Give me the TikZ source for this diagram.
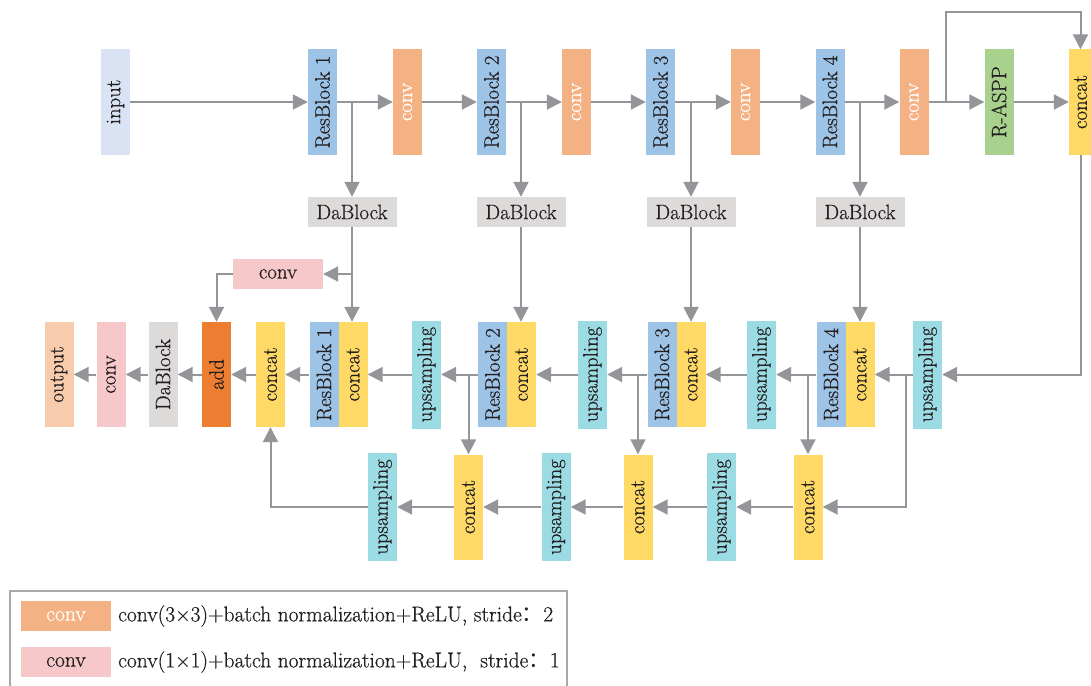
\documentclass[tikz,border=0pt]{standalone}
\usepackage{fontspec}
\usepackage{graphicx}
\usetikzlibrary{arrows.meta}
\setmainfont{Latin Modern Roman}[FakeBold=0.6]
\newfontfamily\cjk{Noto Sans CJK SC}

\definecolor{ink}{HTML}{231F20}
\definecolor{cLine}{HTML}{939598}
\definecolor{cFrame}{HTML}{A7A9AC}
\definecolor{cInput}{HTML}{DAE3F3}
\definecolor{cRes}{HTML}{9DC3E6}
\definecolor{cConv}{HTML}{F4B183}
\definecolor{cAspp}{HTML}{A9D18E}
\definecolor{cCat}{HTML}{FFD966}
\definecolor{cDa}{HTML}{DCDBDA}
\definecolor{cPink}{HTML}{F7C8C9}
\definecolor{cUp}{HTML}{9BDBE3}
\definecolor{cAdd}{HTML}{ED7D31}
\definecolor{cOut}{HTML}{F8CBAD}

\newcommand{\fsz}{\fontsize{20.8}{24}\selectfont}
\newcommand{\lsz}{\fontsize{21.5}{25}\selectfont}
\newcommand{\vtext}[1]{\rotatebox{90}{#1}}

\tikzset{
  box/.style={inner sep=0pt, minimum width=29pt, minimum height=105pt, text=ink, font=\fsz},
  inbox/.style={box, fill=cInput},
  resbox/.style={box, fill=cRes},
  convbox/.style={box, fill=cConv, text=white},
  asppbox/.style={box, fill=cAspp},
  catbox/.style={box, fill=cCat},
  upbox/.style={box, fill=cUp, minimum height=108pt},
  addbox/.style={box, fill=cAdd},
  outbox/.style={box, fill=cOut},
  davbox/.style={box, fill=cDa},
  pinkvbox/.style={box, fill=cPink},
  dabox/.style={inner sep=0pt, minimum width=89pt, minimum height=30pt, fill=cDa, text=ink, font=\fsz},
  swatch/.style={inner sep=0pt, minimum width=90pt, minimum height=30pt, font=\lsz},
  legtext/.style={anchor=west, inner sep=0pt, text=ink, font=\lsz},
  frame/.style={draw=cFrame, line width=1.5pt, inner sep=0pt, minimum width=557pt, minimum height=120pt},
  arr/.style={draw=cLine, line width=2pt, -{Triangle[length=15pt,width=15pt]}},
}

\begin{document}
\begin{tikzpicture}[x=1pt, y=-1pt]
\useasboundingbox (0,0) rectangle (1091,685);

% encoder row
\node[inbox]   (input)  at (115.5,102) {\vtext{input}};
\node[resbox]  (rb1t)   at (322.5,102) {\vtext{ResBlock 1}};
\node[convbox] (cv1)    at (407.5,102) {\vtext{conv}};
\node[resbox]  (rb2t)   at (491.5,102) {\vtext{ResBlock 2}};
\node[convbox] (cv2)    at (576.5,102) {\vtext{conv}};
\node[resbox]  (rb3t)   at (660.5,102) {\vtext{ResBlock 3}};
\node[convbox] (cv3)    at (745.5,102) {\vtext{conv}};
\node[resbox]  (rb4t)   at (830,102)   {\vtext{ResBlock 4}};
\node[convbox] (cv4)    at (914,102)   {\vtext{conv}};
\node[asppbox] (raspp)  at (999,102)   {\vtext{R-ASPP}};
\node[catbox, minimum width=23pt] (cattop) at (1080.5,102) {\vtext{concat}};

% attention blocks
\node[dabox] (da1) at (352,212) {DaBlock};
\node[dabox] (da2) at (521,212) {DaBlock};
\node[dabox] (da3) at (691,212) {DaBlock};
\node[dabox] (da4) at (860,212) {DaBlock};

% 1x1 conv on the shallow skip
\node[swatch, fill=cPink, text=ink, font=\fsz] (cvp) at (278,274) {conv};

% decoder row
\node[outbox]   (out)   at (59,374.5)    {\vtext{output}};
\node[pinkvbox] (cvo)   at (111,374.5)   {\vtext{conv}};
\node[davbox]   (dab)   at (163,374.5)   {\vtext{DaBlock}};
\node[addbox]   (add)   at (216.5,374.5) {\vtext{add}};
\node[catbox]   (catm)  at (270.5,374.5) {\vtext{concat}};
\node[resbox]   (rb1m)  at (324,374.5)   {\vtext{ResBlock 1}};
\node[catbox]   (cat1m) at (353,374.5)   {\vtext{concat}};
\node[upbox]    (up1)   at (426.5,374.5) {\vtext{upsampling}};
\node[resbox]   (rb2m)  at (492.5,374.5) {\vtext{ResBlock 2}};
\node[catbox]   (cat2m) at (521.5,374.5) {\vtext{concat}};
\node[upbox]    (up2)   at (592.5,374.5) {\vtext{upsampling}};
\node[resbox]   (rb3m)  at (662,374.5)   {\vtext{ResBlock 3}};
\node[catbox]   (cat3m) at (691,374.5)   {\vtext{concat}};
\node[upbox]    (up3)   at (761.5,374.5) {\vtext{upsampling}};
\node[resbox]   (rb4m)  at (831,374.5)   {\vtext{ResBlock 4}};
\node[catbox]   (cat4m) at (860,374.5)   {\vtext{concat}};
\node[upbox]    (up4)   at (927.5,374.5) {\vtext{upsampling}};

% lower fusion row
\node[catbox] (cb1) at (808,507)   {\vtext{concat}};
\node[upbox]  (ub1) at (721.5,507) {\vtext{upsampling}};
\node[catbox] (cb2) at (638,507)   {\vtext{concat}};
\node[upbox]  (ub2) at (556,507)   {\vtext{upsampling}};
\node[catbox] (cb3) at (468.5,507) {\vtext{concat}};
\node[upbox]  (ub3) at (382.5,507) {\vtext{upsampling}};

% junction points
\coordinate (j4)   at (945.5,102);
\coordinate (loop) at (0,12);
\coordinate (b4)   at (906,374.5);

% encoder flow
\draw[arr] (input) -- (rb1t);
\draw[arr] (rb1t) -- (cv1);
\draw[arr] (cv1) -- (rb2t);
\draw[arr] (rb2t) -- (cv2);
\draw[arr] (cv2) -- (rb3t);
\draw[arr] (rb3t) -- (cv3);
\draw[arr] (cv3) -- (rb4t);
\draw[arr] (rb4t) -- (cv4);
\draw[arr] (cv4) -- (raspp);
\draw[arr] (raspp) -- (cattop);
\draw[arr] (j4) -- (j4 |- loop) -| (cattop);

% taps into the attention blocks
\draw[arr] (rb1t.east -| da1) -- (da1);
\draw[arr] (rb2t.east -| da2) -- (da2);
\draw[arr] (rb3t.east -| da3) -- (da3);
\draw[arr] (rb4t.east -| da4) -- (da4);
\draw[arr] (da1) -- (da1 |- cat1m.north);
\draw[arr] (da2) -- (da2 |- cat2m.north);
\draw[arr] (da3) -- (cat3m);
\draw[arr] (da4) -- (cat4m);
\draw[arr] (da1 |- cvp) -- (cvp);
\draw[arr] (cvp) -| (add);

% decoder flow
\draw[arr] (cattop) |- (up4);
\draw[arr] (up4) -- (cat4m);
\draw[arr] (rb4m) -- (up3);
\draw[arr] (up3) -- (cat3m);
\draw[arr] (rb3m) -- (up2);
\draw[arr] (up2) -- (cat2m);
\draw[arr] (rb2m) -- (up1);
\draw[arr] (up1) -- (cat1m);
\draw[arr] (rb1m) -- (catm);
\draw[arr] (catm) -- (add);
\draw[arr] (add) -- (dab);
\draw[arr] (dab) -- (cvo);
\draw[arr] (cvo) -- (out);

% lower fusion flow
\draw[arr] (b4) |- (cb1);
\draw[arr] (cb1 |- rb4m) -- (cb1);
\draw[arr] (cb2 |- rb3m) -- (cb2);
\draw[arr] (cb3 |- rb2m) -- (cb3);
\draw[arr] (cb1) -- (ub1);
\draw[arr] (ub1) -- (cb2);
\draw[arr] (cb2) -- (ub2);
\draw[arr] (ub2) -- (cb3);
\draw[arr] (cb3) -- (ub3);
\draw[arr] (ub3) -| (catm);

% legend
\node[frame] (leg) at (288.5,651) {};
\node[swatch, fill=cConv, text=white] (lg1) at (66,616) {conv};
\node[swatch, fill=cPink, text=ink]   (lg2) at (66,662) {conv};
\node[legtext] (lt1) at (118,616) {conv(3×3)+batch normalization+ReLU, stride{\cjk ：}2};
\node[legtext] (lt2) at (118,662) {conv(1×1)+batch normalization+ReLU,\ \ stride{\cjk ：}1};
\end{tikzpicture}
\end{document}
